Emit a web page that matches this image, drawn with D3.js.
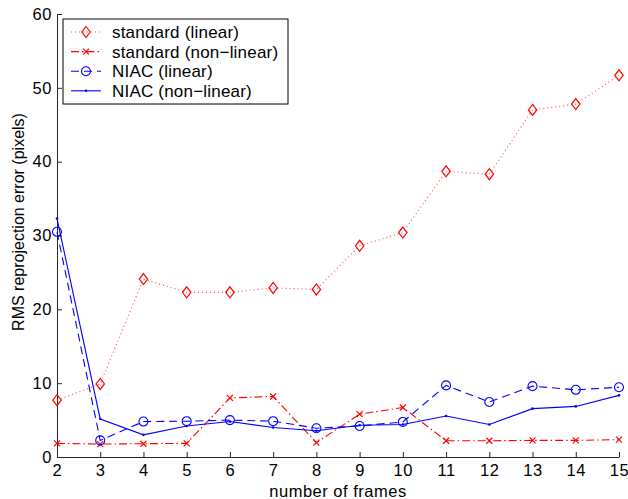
<!DOCTYPE html>
<html>
<head>
<meta charset="utf-8">
<script src="https://cdn.jsdelivr.net/npm/d3@7"></script>
<style>
  body { margin: 0; background: #fff; }
  svg { font-family: "Liberation Sans", Arial, Helvetica, sans-serif; }
</style>
</head>
<body>
<div id="chart"></div>
<script>
// frames on the x axis
const frames = [2, 3, 4, 5, 6, 7, 8, 9, 10, 11, 12, 13, 14, 15]
// RMS error per method (pixels)
const stdLinear = [7.7, 9.9, 24.1, 22.3, 22.3, 22.9, 22.7, 28.6, 30.4, 38.7, 38.3, 47.0, 47.8, 51.7]
const stdNonLinear = [1.85, 1.75, 1.8, 1.85, 8.0, 8.2, 1.95, 5.8, 6.7, 2.2, 2.2, 2.25, 2.25, 2.35]
const niacLinear = [30.5, 2.25, 4.8, 4.85, 5.0, 4.85, 3.9, 4.2, 4.75, 9.7, 7.45, 9.6, 9.1, 9.45]
const niacNonLinear = [32.3, 5.15, 3.0, 4.2, 4.8, 4.0, 3.55, 4.3, 4.4, 5.55, 4.4, 6.55, 6.85, 8.35]
const yTicks = [0, 10, 20, 30, 40, 50, 60]

const series = [
  { name: 'standard (linear)', values: stdLinear, color: '#ff0000', dash: '1,3', marker: 'diamond' },
  { name: 'standard (non\u2212linear)', values: stdNonLinear, color: '#ff0000', dash: '8,3,1.5,3', marker: 'cross' },
  { name: 'NIAC (linear)', values: niacLinear, color: '#0000ff', dash: '8,5', marker: 'circle' },
  { name: 'NIAC (non\u2212linear)', values: niacNonLinear, color: '#0000ff', dash: null, marker: 'point' }
]

const width = 628, height = 499
const margin = { top: 14, right: 9, bottom: 42, left: 57 }

const svg = d3.select('#chart').append('svg')
  .attr('width', width)
  .attr('height', height)

const x = d3.scaleLinear().domain([2, 15]).range([margin.left, width - margin.right])
const y = d3.scaleLinear().domain([0, 60]).range([height - margin.bottom, margin.top])

const axisColor = '#262626'

// x axis, ticks pointing inward
const gx = svg.append('g')
  .attr('transform', `translate(0,${y(0)})`)
  .call(d3.axisBottom(x).tickValues(frames).tickSizeInner(-5).tickSizeOuter(0).tickPadding(7))
gx.select('.domain').attr('stroke', axisColor)
gx.selectAll('.tick line').attr('stroke', axisColor)
gx.selectAll('.tick text').attr('font-size', 16.5).attr('letter-spacing', 0.6).attr('fill', '#000')

const gy = svg.append('g')
  .attr('transform', `translate(${x(2)},0)`)
  .call(d3.axisLeft(y).tickValues(yTicks).tickSizeInner(-5).tickSizeOuter(0).tickPadding(5))
gy.select('.domain').attr('stroke', axisColor)
gy.selectAll('.tick line').attr('stroke', axisColor)
gy.selectAll('.tick text').attr('font-size', 16.5).attr('letter-spacing', 0.6).attr('fill', '#000')

svg.append('text')
  .attr('x', 338)
  .attr('y', 497)
  .attr('text-anchor', 'middle')
  .attr('font-size', 16.5)
  .attr('letter-spacing', 0.5)
  .text('number of frames')

svg.append('text')
  .attr('transform', 'translate(24,222) rotate(-90)')
  .attr('text-anchor', 'middle')
  .attr('font-size', 16)
  .text('RMS reprojection error (pixels)')

const drawMarker = (g, type, color) => {
  if (type === 'diamond') {
    g.append('path').attr('d', 'M0,-5.5L4.2,0L0,5.5L-4.2,0Z')
      .attr('fill', 'none').attr('stroke', color).attr('stroke-width', 1.2)
  } else if (type === 'cross') {
    g.append('path').attr('d', 'M-3,-3L3,3M-3,3L3,-3')
      .attr('stroke', color).attr('stroke-width', 1.2)
  } else if (type === 'circle') {
    g.append('circle').attr('r', 4.5)
      .attr('fill', 'none').attr('stroke', color).attr('stroke-width', 1.1)
  } else {
    g.append('circle').attr('r', 1.3).attr('fill', color)
  }
}

const line = d3.line().x((d, i) => x(frames[i])).y(d => y(d))

series.forEach(s => {
  svg.append('path')
    .datum(s.values)
    .attr('d', line)
    .attr('fill', 'none')
    .attr('stroke', s.color)
    .attr('stroke-width', 1.1)
    .attr('stroke-dasharray', s.dash)
    .attr('opacity', s.marker === 'diamond' ? 0.7 : 1)
  s.values.forEach((v, i) => {
    const g = svg.append('g').attr('transform', `translate(${x(frames[i])},${y(v)})`)
    drawMarker(g, s.marker, s.color)
  })
})

// legend
const legend = svg.append('g').attr('transform', 'translate(63,19)')
legend.append('rect')
  .attr('width', 225).attr('height', 85)
  .attr('fill', '#fff').attr('stroke', '#000').attr('stroke-width', 1)

series.forEach((s, i) => {
  const ly = 13 + i * 19.6
  legend.append('line')
    .attr('x1', 8).attr('x2', 38).attr('y1', ly).attr('y2', ly)
    .attr('stroke', s.color).attr('stroke-width', 1.1)
    .attr('stroke-dasharray', s.dash)
    .attr('opacity', s.marker === 'diamond' ? 0.7 : 1)
  drawMarker(legend.append('g').attr('transform', `translate(23,${ly})`), s.marker, s.color)
  legend.append('text')
    .attr('x', 49).attr('y', ly + 6)
    .attr('font-size', 17)
    .attr('letter-spacing', 0.2)
    .text(s.name)
})
</script>
</body>
</html>
